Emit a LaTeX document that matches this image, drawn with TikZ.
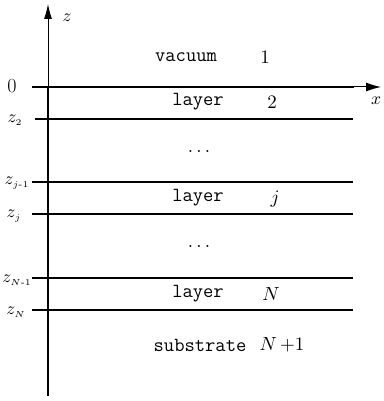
\documentclass[tikz,border=0pt]{standalone}
\usepackage{fontspec}
\usetikzlibrary{arrows.meta}
\tikzset{
  lbl/.style={inner sep=0pt, font=\fontsize{20}{23}\selectfont\ttfamily},
  num/.style={inner sep=0pt, font=\normalsize, scale=1.9},
  zl/.style={inner sep=0pt, font=\normalsize, scale=1.75},
  iface/.style={line width=1.1pt},
  axis/.style={line width=1.3pt}
}
\begin{document}
\begin{tikzpicture}[x=1pt,y=-1pt]
\useasboundingbox (0,0) rectangle (383,401);
% axes
\coordinate (zb) at (48,396);
\coordinate (zo) at (48,87);
\coordinate (zt) at (48,4);
\draw[axis] (zb) -- (zo);
\draw[line width=0.9pt,-{Latex[length=15pt,width=8pt]}] (zo) -- (zt);
\node[zl] (zlab) at (67,18) {$z$};
\coordinate (xa) at (32,87);
\coordinate (xm) at (354,87);
\coordinate (xe) at (381,87);
\draw[line width=2.6pt] (xa) -- (xm);
\draw[line width=1pt,-{Latex[length=15pt,width=9pt]}] (xm) -- (xe);
\node[zl] (xlab) at (376,101) {$x$};
\node[inner sep=0pt, font=\fontsize{20}{24}\selectfont] (zero) at (12,86) {0};
% interfaces
\coordinate (a2) at (35,119);   \coordinate (b2) at (353,119);
\coordinate (aj1) at (32,182);  \coordinate (bj1) at (353,182);
\coordinate (aj) at (32,214);   \coordinate (bj) at (353,214);
\coordinate (aN1) at (32,278);  \coordinate (bN1) at (353,278);
\coordinate (aN) at (32,310);   \coordinate (bN) at (353,310);
\draw[iface] (a2) -- (b2);
\draw[iface] (aj1) -- (bj1);
\draw[iface] (aj) -- (bj);
\draw[iface] (aN1) -- (bN1);
\draw[iface] (aN) -- (bN);
% interface labels
\node[zl] (z2) at (15,120) {$z_{\scriptscriptstyle 2}$};
\node[zl] (zj1) at (17,183) {$z_{\scriptscriptstyle j\mbox{\tiny -}1}$};
\node[zl] (zj) at (14,216) {$z_{\scriptscriptstyle j}$};
\node[zl] (zN1) at (17,280) {$z_{\scriptscriptstyle N\mbox{\tiny -}1}$};
\node[zl] (zN) at (16,312) {$z_{\scriptscriptstyle N}$};
% region labels
\node[lbl] (vac) at (186,57) {vacuum};
\node[num] (n1) at (265,57) {$1$};
\node[lbl] (l2) at (198,102) {layer};
\node[num] (n2) at (272,102) {$2$};
\node[num,anchor=base] (d1) at (199,152) {$\ldots$};
\node[lbl] (lj) at (198,198) {layer};
\node[num] (nj) at (275,199) {$j$};
\node[num,anchor=base] (d2) at (199,247) {$\ldots$};
\node[lbl] (lN) at (198,294) {layer};
\node[num] (nN) at (271,294) {$N$};
\node[lbl] (sub) at (200,345) {substrate};
\node[num] (nN1) at (282,345) {$N\,{+}1$};
\end{tikzpicture}
\end{document}
